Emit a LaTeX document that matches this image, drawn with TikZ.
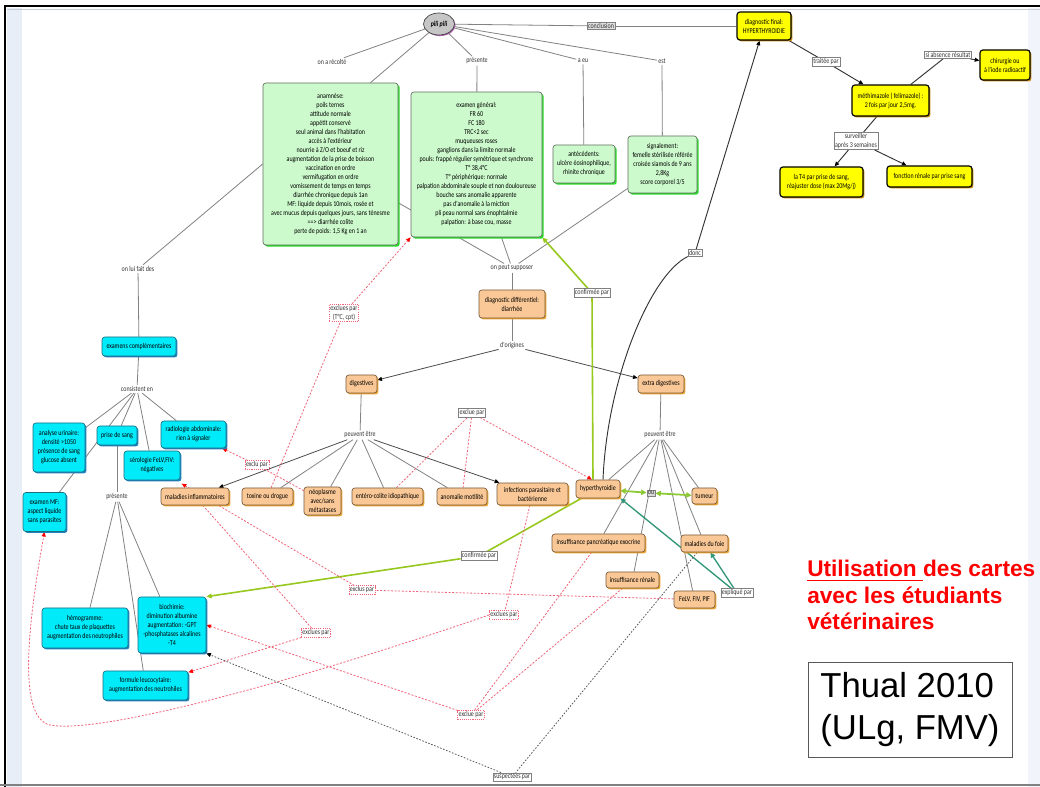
\documentclass[tikz,border=0pt]{standalone}
\usepackage{fontspec}
\setmainfont{Liberation Sans}
\newfontfamily\mapfam{Carlito}[FakeStretch=0.8]
\newfontfamily\arialfam{Liberation Sans}
\usetikzlibrary{shapes.geometric,arrows.meta,shadows,backgrounds,calc}
\newcommand\mapf{\mapfam\fontsize{5.6}{6.75}\selectfont}
\definecolor{gfill}{RGB}{204,250,204}
\definecolor{gshad}{RGB}{40,220,40}
\definecolor{gbord}{RGB}{100,110,100}
\definecolor{ofill}{RGB}{250,200,150}
\definecolor{oshad}{RGB}{235,165,50}
\definecolor{obord}{RGB}{120,90,60}
\definecolor{cfill}{RGB}{0,235,250}
\definecolor{cshad}{RGB}{30,130,190}
\definecolor{cbord}{RGB}{30,110,130}
\definecolor{yfill}{RGB}{255,255,0}
\definecolor{yshad}{RGB}{200,140,20}
\definecolor{lgray}{RGB}{130,130,130}
\definecolor{cgreen}{RGB}{150,200,30}
\definecolor{dgreen}{RGB}{140,200,50}
\definecolor{teal2}{RGB}{50,150,120}
\definecolor{rdash}{RGB}{240,100,120}
\definecolor{stripblue}{RGB}{232,238,248}
\tikzset{
 wh/.style 2 args={minimum width=#1*0.75pt, minimum height=#2*0.75pt},
 concept/.style={rectangle, rounded corners=2.2pt, align=center, font=\mapf, inner sep=0.5pt, line width=0.5pt},
 cg/.style={concept, fill=gfill, draw=gbord, drop shadow={shadow xshift=1.3pt, shadow yshift=-1.3pt, opacity=1, fill=gshad}},
 co/.style={concept, fill=ofill, draw=obord, drop shadow={shadow xshift=1.1pt, shadow yshift=-1.1pt, opacity=1, fill=oshad}},
 cc/.style={concept, fill=cfill, draw=cbord, drop shadow={shadow xshift=1.1pt, shadow yshift=-1.1pt, opacity=1, fill=cshad}},
 cy/.style={concept, fill=yfill, draw=black, line width=0.9pt, drop shadow={shadow xshift=1.1pt, shadow yshift=-1.1pt, opacity=1, fill=yshad}},
 lbl/.style={font=\mapf, inner sep=1pt, align=center, text=black!80},
 blbl/.style={lbl, draw=gray, fill=white, line width=0.4pt, inner sep=0.8pt},
 rlbl/.style={lbl, draw=rdash, dash pattern=on 0.8pt off 0.8pt, fill=white, line width=0.4pt, inner sep=0.8pt},
 lk/.style={draw=lgray, line width=0.6pt},
 lka/.style={draw=black!70, line width=0.6pt, -{Triangle[length=3.5pt,width=3pt,color=black]}},
 lkb/.style={draw=black!80, line width=0.7pt},
 lkba/.style={lkb, -{Triangle[length=3.5pt,width=3pt,color=black]}},
 cf/.style={draw=cgreen, line width=1.2pt},
 cfa/.style={cf, -{Triangle[length=4pt,width=3.5pt]}},
 gda/.style={draw=dgreen, line width=1.3pt, {Triangle[length=4pt,width=4pt]}-{Triangle[length=4pt,width=4pt]}},
 tla/.style={draw=teal2, line width=1pt, -{Triangle[length=4pt,width=3.5pt]}},
 rd/.style={draw=rdash, line width=0.6pt, dash pattern=on 1.5pt off 1.2pt},
 rda/.style={rd, -{Triangle[length=3.5pt,width=3pt,color=red]}},
 kd/.style={draw=black!65, line width=0.6pt, dash pattern=on 1.2pt off 1.2pt},
 kda/.style={kd, -{Triangle[length=3.5pt,width=3pt,color=black]}},
 redt/.style={anchor=base west, inner sep=0pt, text=red, font=\arialfam\bfseries\fontsize{17}{20}\selectfont}
}
\begin{document}
\begin{tikzpicture}[x=0.75pt,y=-0.75pt]
\useasboundingbox (0,0) rectangle (1040,787);
% concepts
\node[ellipse, fill=gray!45, draw=gray!50!black, line width=0.5pt, minimum width=31*0.75pt, minimum height=22*0.75pt, inner sep=0pt, font=\mapfam\bfseries\itshape\fontsize{5.6}{6}\selectfont, drop shadow={shadow xshift=0.8pt,shadow yshift=-0.8pt,opacity=1,fill=violet!60}] (pili) at (439,24) {pili pili};
\node[cg, wh={135}{162}] (anam) at (330.5,164) {anamnèse:\\poils ternes\\attitude normale\\appétit conservé\\seul animal dans l'habitation\\accès à l'extérieur\\nourrie à Z/O et boeuf et riz\\augmentation de la prise de boisson\\vaccination en ordre\\vermifugation en ordre\\vomissement de temps en temps\\diarrhée chronique depuis 1an\\MF: liquide depuis 10mois, rosée et\\avec mucus depuis quelques jours, sans ténesme\\==> diarrhée colite\\perte de poids: 1,5 Kg en 1 an};
\node[cg, wh={131}{145}] (exam) at (476.5,164.5) {examen général:\\FR 60\\FC 180\\TRC<2 sec\\muqueuses roses\\ganglions dans la limite normale\\pouls: frappé régulier symétrique et synchrone\\T° 38,4°C\\T° périphérique: normale\\palpation abdominale souple et non douloureuse\\bouche sans anomalie apparente\\pas d'anomalie à la miction\\pli peau normal sans énophtalmie\\palpation: à base cou, masse};
\node[cg, wh={62}{38}] (antec) at (584,164) {antécédents:\\ulcère éosinophilique,\\rhinite chronique};
\node[cg, wh={69}{57}] (signal) at (662.5,164.5) {signalement:\\femelle stérilisée référée\\croisée siamois de 9 ans\\2,8Kg\\score corporel 3/5};
\node[co, wh={66}{28}] (diagdiff) at (512,304) {diagnostic différentiel:\\diarrhée};
\node[co, wh={31}{18}] (dig) at (361.5,384) {digestives};
\node[co, wh={46}{18}] (extra) at (661,384) {extra digestives};
\node[co, wh={68}{17}] (malinf) at (195,496.5) {maladies inflammatoires};
\node[co, wh={51}{17}] (toxine) at (267.5,496.5) {toxine ou drogue};
\node[co, wh={37}{28}] (neo) at (322.5,501) {néoplasme\\avec/sans\\métastases};
\node[co, wh={71}{17}] (entero) at (387.5,496.5) {entéro-colite idiopathique};
\node[co, wh={50}{17}] (anomalie) at (462,496.5) {anomalie motilité};
\node[co, wh={71}{22}] (infect) at (532.5,494) {infections parasitaire et\\bactérienne};
\node[co, wh={44}{18}] (hyper) at (598,489) {hyperthyroidie};
\node[co, wh={25}{16}] (tumeur) at (704.5,496) {tumeur};
\node[co, wh={93}{18}] (pancr) at (598.5,543) {insuffisance pancréatique exocrine};
\node[co, wh={47}{17}] (foie) at (704.5,543.5) {maladies du foie};
\node[co, wh={53}{16}] (renale) at (632.5,580) {insuffisance rénale};
\node[co, wh={41}{17}] (felv) at (694.5,599.5) {FeLV, FIV, PIF};
\node[cc, wh={74}{19}] (examcomp) at (139,346.5) {examens complémentaires};
\node[cc, wh={52}{49}] (urin) at (59,447.5) {analyse urinaire:\\densité >1050\\présence de sang\\glucose absent};
\node[cc, wh={40}{19}] (sang) at (117,435.5) {prise de sang};
\node[cc, wh={65}{27}] (radio) at (193.5,434.5) {radiologie abdominale:\\rien à signaler};
\node[cc, wh={56}{29}] (sero) at (152,465.5) {sérologie FeLV,FIV:\\négatives};
\node[cc, wh={43}{39}] (examMF) at (44.5,512) {examen MF:\\aspect liquide\\sans parasites};
\node[cc, wh={86}{40}] (hemo) at (85,628) {hémogramme:\\chute taux de plaquettes\\augmentation des neutrophiles};
\node[cc, wh={68}{56}] (bioch) at (172,625) {biochimie:\\diminution albumine\\augmentation: -GPT\\-phosphatases alcalines\\-T4};
\node[cc, wh={85}{29}] (formule) at (145.5,685.5) {formule leucocytaire:\\augmentation des neutrohiles};
\node[cy, wh={54}{28}] (diagfinal) at (764,26) {diagnostic final:\\HYPERTHYROIDIE};
\node[cy, wh={77}{31}] (methi) at (890.5,100.5) {méthimazole ( felimazole) :\\2 fois par jour 2,5mg.};
\node[cy, wh={50}{30}] (chir) at (1005,65) {chirurgie ou\\à l'iode radioactif};
\node[cy, wh={83}{30}] (t4) at (821.5,182) {la T4 par prise de sang,\\réajuster dose (max 20Mg/j)};
\node[cy, wh={85}{21}] (fonct) at (929.5,176.5) {fonction rénale par prise sang};
% linking phrases
\node[lbl] (onarecolte) at (332,62) {on a récolté};
\node[lbl] (presente) at (477,61) {présente};
\node[lbl] (aeu) at (583,61) {a eu};
\node[lbl] (est) at (662,61) {est};
\node[blbl, fill=gray!25] (conclusion) at (601,26) {conclusion};
\node[lbl] (onlui) at (138,269) {on lui fait des};
\node[lbl] (consistent) at (137,389) {consistent en};
\node[lbl] (onpeut) at (512,268) {on peut supposer};
\node[lbl] (dorigines) at (512,346) {d'origines};
\node[lbl] (peuvent1) at (360,435) {peuvent être};
\node[lbl] (peuvent2) at (660,435) {peuvent être};
\node[lbl] (presente2) at (117,497) {présente};
\node[blbl] (traitee) at (826,62) {traitée par};
\node[blbl] (siabsence) at (948,55) {si absence résultat};
\node[blbl] (surveiller) at (856,141) {surveiller\\après 3 semaines};
\node[blbl] (donc) at (695,253) {donc};
\node[blbl] (confirmee1) at (592,293) {confirmée par};
\node[blbl] (exclue1) at (472,413) {exclue par};
\node[blbl] (confirmee2) at (479,556) {confirmée par};
\node[blbl] (explique) at (737,593) {expliqué par};
\node[blbl, fill=gray!30] (ou) at (651,493) {ou};
\node[blbl] (suspectees) at (512,777) {suspectées par};
\node[rlbl] (exclues0) at (344,313) {exclues par\\(T°C, cpt)};
\node[rlbl] (exclu) at (257,465) {exclu par};
\node[rlbl] (exclus) at (362,590) {exclus par};
\node[rlbl] (exclues) at (316,633) {exclues par};
\node[rlbl] (exclues2) at (504,615) {exclues par};
\node[rlbl] (exclue3) at (471,715) {exclue par};
\coordinate (malinftip) at ($(malinf.north west)+(21,-4)$);
% right texts
\node[redt] (util1) at (807,577) {Utilisation des cartes};
\node[redt] (util2) at (807,603.5) {avec les étudiants};
\node[redt] (util3) at (807,630) {vétérinaires};
\node[draw=gray!70!black, line width=0.6pt, wh={204}{95}, align=left, font=\arialfam\fontsize{26}{31}\selectfont, inner sep=0pt] (thual) at (910,709.5) {Thual 2010\\(ULg, FMV)};
\begin{scope}[on background layer]
\fill[white] (0,0) rectangle (1040,787);
\fill[stripblue] (7,8) rectangle (22,787);
\fill[stripblue!60] (1028,8) rectangle (1040,787);
\draw[stripblue!70!gray, line width=1pt] (7,9.5) -- (1040,9.5);
\draw[black, line width=1.6pt] (5,787) -- (5,6) -- (1040,6);
\draw[gray, line width=1.5pt] (0,785) -- (1040,785);
\draw[red, line width=1.3pt] ($(util1.base west)+(0,3.5)$) -- ++(116,0);
% gray links
\draw[lk] (pili) -- (onarecolte);
\draw[lk] (pili) -- ($(anam.north)+(40,0)$);
\draw[lk] (pili) -- (presente);
\draw[lk] (presente) -- (exam);
\draw[lk] (pili) -- (aeu);
\draw[lk] (aeu) -- (antec);
\draw[lk] (pili) -- (est);
\draw[lk] (est) -- (signal);
\draw[lk] (pili) -- (conclusion);
\draw[lk] (conclusion) -- (diagfinal);
\draw[lk] (anam.west) -- (onlui);
\draw[lk] (onlui) -- (examcomp);
\draw[lk] (anam) -- (onpeut);
\draw[lk] (exam) -- (onpeut);
\draw[lk] (signal) -- (onpeut);
\draw[lk] (onpeut) -- (diagdiff);
\draw[lk] (diagdiff) -- (dorigines);
\draw[lka] (dorigines) -- (dig);
\draw[lka] (dorigines) -- (extra);
\draw[lk] (dig) -- (peuvent1);
\draw[lka] (peuvent1) -- (malinf);
\draw[lka] (peuvent1) -- (infect);
\foreach \n in {toxine,neo,entero,anomalie} \draw[lk] (peuvent1) -- (\n);
\draw[lk] (extra) -- (peuvent2);
\foreach \n in {hyper,pancr,renale,felv,foie,tumeur} \draw[lk] (peuvent2) -- (\n);
\draw[lk] (examcomp) -- (consistent);
\foreach \n in {urin,examMF,sang,sero,radio} \draw[lk] (consistent) -- (\n);
\draw[lk] (sang) -- (presente2);
\foreach \n in {hemo,formule,bioch} \draw[lk] (presente2) -- (\n);
% treatment
\draw[lkb] (diagfinal) -- (traitee);
\draw[lkba] (traitee) -- (methi);
\draw[lkb] (methi) -- (siabsence);
\draw[lkba] (siabsence) -- (chir);
\draw[lkb] (methi) -- (surveiller);
\draw[lkba] (surveiller) -- (t4);
\draw[lkba] (surveiller) -- (fonct);
\draw[lkb] ($(hyper.north)+(5,0)$) .. controls (607,380) and (650,275) .. (donc);
\draw[lkba] (donc) -- (diagfinal);
% confirmations
\draw[cf] ($(hyper.north)+(-5,0)$) -- (confirmee1);
\draw[cfa] (confirmee1) -- (exam.south east);
\draw[cf] (hyper) -- (confirmee2);
\draw[cfa] (confirmee2) -- (bioch.north east);
\draw[gda] (hyper) -- (ou);
\draw[gda] (ou) -- (tumeur);
\draw[tla] (explique) -- (hyper.south east);
\draw[tla] (explique) -- (foie);
% exclusions
\draw[rd] (toxine) -- (exclues0);
\draw[rda] (exclues0) -- (exam.south west);
\draw[rd] (neo) -- (exclu);
\draw[rda] (exclu) -- (radio);
\draw[rd] (entero) -- (exclue1);
\draw[rd] (anomalie) -- (exclue1);
\draw[rda] (exclue1) -- ($(hyper.north)+(-6,0)$);
\draw[rd] (felv) -- (exclus);
\draw[rda] (exclus) -- (malinftip);
\draw[rd] (malinf) -- (exclues);
\draw[rda] (exclues) -- (formule);
\draw[rd] (infect) -- (exclues2);
\draw[rda] (exclues2.west) .. controls (300,680) and (100,735) .. (50,725) .. controls (20,718) and (25,640) .. (examMF.south);
\draw[rd] (pancr) -- (exclue3);
\draw[rd] (renale) -- (exclue3);
\draw[rda] (exclue3) -- (bioch.east);
\draw[kd] (foie) -- (suspectees);
\draw[kda] (suspectees) -- (bioch.south east);
\end{scope}
\end{tikzpicture}
\end{document}
